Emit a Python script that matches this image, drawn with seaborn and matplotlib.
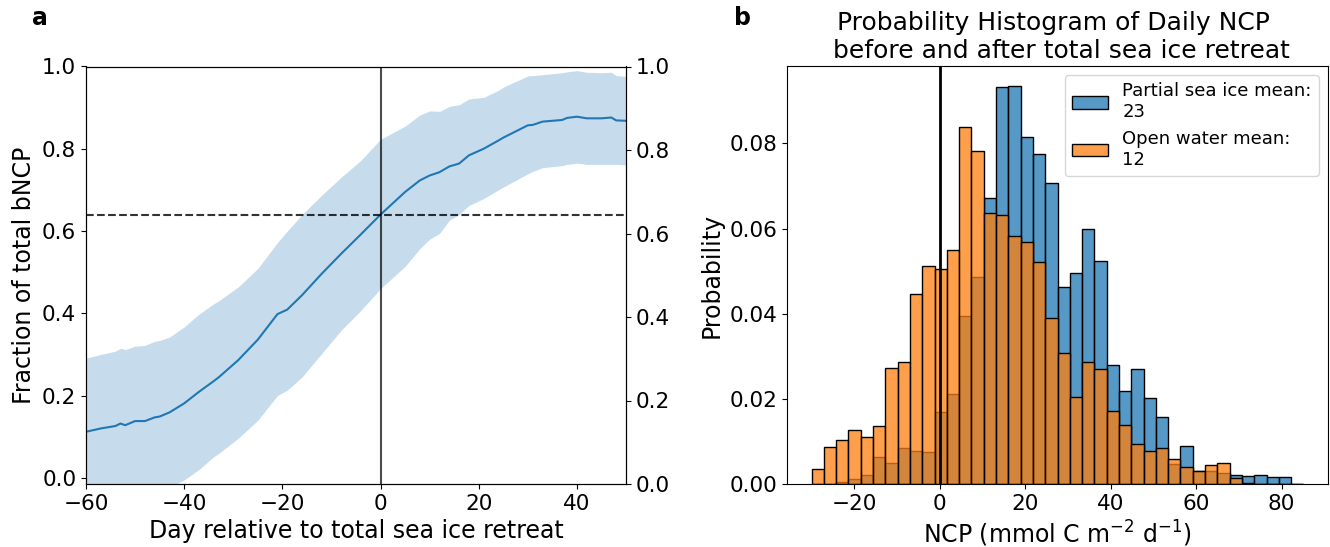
import matplotlib
matplotlib.use("Agg")
import matplotlib.pyplot as plt
import seaborn as sns
import numpy as np
import pandas as pd

# panel a: fraction of total bNCP vs day relative to sea ice retreat
days = [-60, -57, -54, -53, -52, -50, -48, -46, -45, -43, -40, -37, -34, -33, -29,
        -25, -21, -19, -16, -12, -8, -4, 0, 5, 8, 10, 12, 14, 16, 18,
        21, 24, 25, 30, 31, 33, 37, 38, 40, 42, 45, 47, 48, 50]
frac_mean = [0.112, 0.120, 0.126, 0.132, 0.128, 0.138, 0.138, 0.147, 0.149, 0.159,
             0.181, 0.209, 0.235, 0.244, 0.286, 0.336, 0.398, 0.409, 0.444, 0.496,
             0.545, 0.592, 0.640, 0.695, 0.723, 0.735, 0.743, 0.757, 0.764, 0.784,
             0.800, 0.820, 0.827, 0.857, 0.858, 0.866, 0.870, 0.875, 0.878, 0.874,
             0.874, 0.876, 0.869, 0.868]
frac_upper = [0.291, 0.300, 0.308, 0.315, 0.312, 0.320, 0.322, 0.332, 0.334, 0.342,
              0.367, 0.398, 0.423, 0.430, 0.464, 0.509, 0.572, 0.600, 0.640, 0.687,
              0.731, 0.772, 0.823, 0.855, 0.882, 0.892, 0.891, 0.903, 0.907, 0.921,
              0.925, 0.942, 0.950, 0.977, 0.978, 0.980, 0.985, 0.987, 0.990, 0.986,
              0.985, 0.986, 0.978, 0.976]
frac_lower = [-0.067, -0.060, -0.056, -0.051, -0.056, -0.044, -0.046, -0.038, -0.036, -0.024,
              -0.005, 0.020, 0.051, 0.059, 0.096, 0.140, 0.200, 0.213, 0.245, 0.302,
              0.359, 0.407, 0.460, 0.514, 0.557, 0.580, 0.594, 0.626, 0.640, 0.662,
              0.679, 0.700, 0.707, 0.739, 0.745, 0.754, 0.759, 0.762, 0.765, 0.762,
              0.762, 0.762, 0.762, 0.761]
frac_at_retreat = 0.64

# panel b: probability per NCP bin (40 bins)
ncp_bins = list(np.linspace(-30.0, 85.1, 41))
prob_partial = [0, 0, 0.0004, 0.0011, 0.0020, 0.0064, 0.0049, 0.0084, 0.0078, 0.0074,
                0.0168, 0.0211, 0.0395, 0.0487, 0.0671, 0.0932, 0.0935, 0.0816, 0.0774, 0.0706,
                0.0462, 0.0495, 0.0600, 0.0523, 0.0280, 0.0218, 0.0269, 0.0201, 0.0157, 0.0047,
                0.0089, 0.0031, 0.0031, 0.0025, 0.0022, 0.0019, 0.0022, 0.0016, 0.0016, 0]
prob_open = [0.0035, 0.0088, 0.0103, 0.0127, 0.0110, 0.0136, 0.0272, 0.0286, 0.0446, 0.0511,
             0.0504, 0.0550, 0.0839, 0.0781, 0.0637, 0.0631, 0.0582, 0.0569, 0.0521, 0.0391,
             0.0307, 0.0204, 0.0286, 0.0269, 0.0172, 0.0139, 0.0094, 0.0078, 0.0085, 0.0058,
             0.0039, 0.0031, 0.0045, 0.0049, 0.0013, 0.0003, 0, 0, 0, 0]
mean_partial = 23
mean_open = 12

tick_fs = 15.5
label_fs = 17

fig = plt.figure(figsize=(13.3, 5.47), dpi=100)
ax = fig.add_axes([86/1330, 63/547, 540/1330, 417.5/547])
ax.fill_between(days, frac_lower, frac_upper, color='tab:blue', alpha=0.25, lw=0)
sns.lineplot(x=days, y=frac_mean, ax=ax, color='tab:blue', lw=1.5)
ax.axvline(0, color='k', alpha=0.7, lw=1.5)
ax.axhline(frac_at_retreat, color='k', alpha=0.8, ls='--', lw=1.5)
ax.set_xlim(-60, 50)
ax.set_ylim(-0.015, 1.0)
ax.set_yticks([0, 0.2, 0.4, 0.6, 0.8, 1.0])
ax.set_xticks([-60, -40, -20, 0, 20, 40])
ax.tick_params(labelsize=tick_fs)
ax.set_xlabel('Day relative to total sea ice retreat', fontsize=label_fs)
ax.set_ylabel('Fraction of total bNCP', fontsize=label_fs)
axr = ax.twinx()
axr.set_ylim(0, 1)
axr.set_yticks([0, 0.2, 0.4, 0.6, 0.8, 1.0])
axr.tick_params(labelsize=tick_fs)

# panel b
bx = fig.add_axes([787/1330, 63/547, 541/1330, 418/547])
centers = [(a + b) / 2 for a, b in zip(ncp_bins[:-1], ncp_bins[1:])]
hist_df = pd.DataFrame({'ncp': centers, 'partial': prob_partial, 'open': prob_open})
sns.histplot(data=hist_df, x='ncp', weights='partial', bins=ncp_bins, ax=bx,
             color='tab:blue', alpha=0.75, edgecolor='black', linewidth=1,
             label='Partial sea ice mean:\n%d' % mean_partial)
sns.histplot(data=hist_df, x='ncp', weights='open', bins=ncp_bins, ax=bx,
             color='tab:orange', alpha=0.75, edgecolor='black', linewidth=1,
             label='Open water mean:\n%d' % mean_open)
bx.axvline(0, color='k', lw=2)
bx.set_yticks([0, 0.02, 0.04, 0.06, 0.08])
bx.tick_params(labelsize=tick_fs)
bx.set_xlabel('NCP (mmol C m$^{-2}$ d$^{-1}$)', fontsize=label_fs)
bx.set_ylabel('Probability', fontsize=label_fs)
bx.set_title('Probability Histogram of Daily NCP \n before and after total sea ice retreat',
             fontsize=18)
bx.legend(fontsize=13, loc='upper right')

fig.text(40/1330, 1 - 25/547, 'a', fontsize=17, fontweight='bold', ha='center', va='baseline')
fig.text(742.5/1330, 1 - 25/547, 'b', fontsize=17, fontweight='bold', ha='center', va='baseline')

fig.savefig('out.png', dpi=100)
